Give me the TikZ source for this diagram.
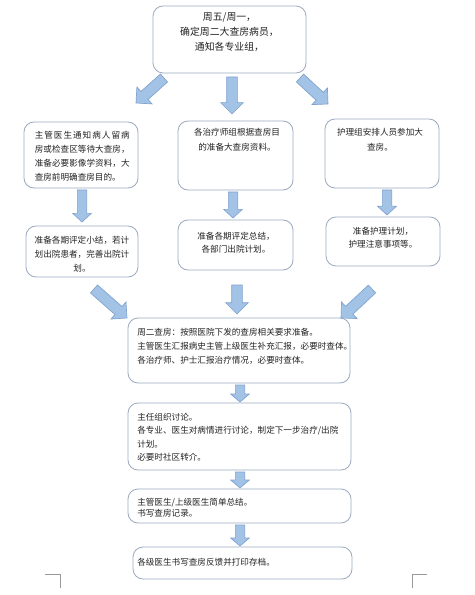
\documentclass[tikz,border=0pt]{standalone}
\usepackage{fontspec}
\setmainfont{Noto Sans CJK SC}
\usetikzlibrary{calc,fit}
\XeTeXlinebreaklocale "zh"
\XeTeXlinebreakskip=0pt plus 1.5pt
\definecolor{boxline}{RGB}{155,170,192}
\definecolor{arrfill}{RGB}{163,195,230}
\definecolor{arrline}{RGB}{128,162,206}
\definecolor{txt}{RGB}{35,35,35}
\newcommand\blockarr[5]{%
  \filldraw[barrow] let \p1=(#1), \p2=(#2),
    \n1={atan2(\y2-\y1,\x2-\x1)}, \n2={veclen(\x2-\x1,\y2-\y1)}, \n3={\n2-#5pt} in
    [shift={(\p1)}, rotate=\n1]
    (0pt,-#3pt) -- (\n3,-#3pt) -- (\n3,-#4pt) -- (\n2,0pt) -- (\n3,#4pt) -- (\n3,#3pt) -- (0pt,#3pt) -- cycle;}
\tikzset{
  box/.style={draw=boxline, line width=0.6pt, rounded corners=7.5pt, fill=white, inner sep=0pt},
  txtc/.style={inner sep=0pt, align=center, text=txt, anchor=north, font=\fontsize{6.45pt}{10.5pt}\selectfont},
  txtl/.style={inner sep=0pt, align=left, text=txt, anchor=north west, font=\fontsize{6.45pt}{10.5pt}\selectfont},
  barrow/.style={fill=arrfill, draw=arrline, line width=0.5pt, line join=miter},
  cmark/.style={draw=black!40, line width=0.4pt}
}
\begin{document}
\begin{tikzpicture}[x=0.75pt, y=-0.75pt]
\useasboundingbox (0,0) rectangle (474,595);
\fill[white] (0,0) rectangle (474,595);

% boxes
\node[box, fit={(153,6) (306,73)}] (top) {};
\node[box, fit={(24,122) (138,188)}] (L1) {};
\node[box, fit={(178,121) (293,190)}] (M1) {};
\node[box, fit={(325,119) (439,188)}] (R1) {};
\node[box, fit={(26,226) (138,277)}] (L2) {};
\node[box, fit={(178,220) (293,270)}] (M2) {};
\node[box, fit={(326,217) (440,266)}] (R2) {};
\node[box, fit={(128,318) (350,383)}] (B3) {};
\node[box, fit={(128,403) (351,470)}] (B4) {};
\node[box, fit={(128,489) (351,523)}] (B5) {};
\node[box, fit={(133,547) (352,579)}] (B6) {};

% texts
\node[txtc, font=\fontsize{7.4pt}{11.2pt}\selectfont] (ttop) at (229.5,12.5)
  {周五/周一，\\确定周二大查房病员，\\通知各专业组，};
\node[txtl, align=justify, text width=71.2pt] (tL1) at (34.5,131)
  {主管医生通知病人留病\linebreak 房或检查区等待大查房，\linebreak 准备必要影像学资料，大\linebreak 查房前明确查房目的。};
\node[txtc, font=\fontsize{6.45pt}{11.2pt}\selectfont] (tM1) at (237,128)
  {各治疗师组根据查房目\\的准备大查房资料。};
\node[txtc, font=\fontsize{6.45pt}{11.2pt}\selectfont] (tR1) at (380,128)
  {护理组安排人员参加大\\查房。};
\node[txtc] (tL2) at (82,236)
  {准备各期评定小结，若计\\划出院患者，完善出院计\\划。};
\node[txtc, font=\fontsize{6.45pt}{9.8pt}\selectfont] (tM2) at (236,232)
  {准备各期评定总结，\\各部门出院计划。};
\node[txtc, font=\fontsize{6.45pt}{9.8pt}\selectfont] (tR2) at (383,227)
  {准备护理计划，\\护理注意事项等。};
\node[txtl] (tB3) at (137,328)
  {周二查房：按照医院下发的查房相关要求准备。\\主管医生汇报病史主管上级医生补充汇报，必要时查体。\\各治疗师、护士汇报治疗情况，必要时查体。};
\node[txtl, font=\fontsize{6.45pt}{10pt}\selectfont] (tB4) at (137,413)
  {主任组织讨论。\\各专业、医生对病情进行讨论，制定下一步治疗/出院\\计划。\\必要时社区转介。};
\node[txtl, font=\fontsize{6.45pt}{8.6pt}\selectfont] (tB5) at (137,498)
  {主管医生/上级医生简单总结。\\书写查房记录。};
\node[txtl] (tB6) at (137,558)
  {各级医生书写查房反馈并打印存档。};

% arrow end points
\coordinate (a1s) at (164,78);  \coordinate (a1e) at (136,103);
\coordinate (a2s) at (232,77);  \coordinate (a2e) at (232,114);
\coordinate (a3s) at (300,78);  \coordinate (a3e) at (328,104);
\coordinate (a4s) at (82,190);  \coordinate (a4e) at (82,222);
\coordinate (a5s) at (233,192); \coordinate (a5e) at (233,218);
\coordinate (a6s) at (387,190); \coordinate (a6e) at (387,215);
\coordinate (a7s) at (94,289);  \coordinate (a7e) at (127,318);
\coordinate (a8s) at (237,285); \coordinate (a8e) at (237,314);
\coordinate (a9s) at (372,289); \coordinate (a9e) at (341,318);
\coordinate (a10s) at (240,385); \coordinate (a10e) at (240,402);
\coordinate (a11s) at (240,472); \coordinate (a11e) at (240,488);
\coordinate (a12s) at (240,525); \coordinate (a12e) at (240,546);

\blockarr{a1s}{a1e}{4}{8.5}{8.5}
\blockarr{a2s}{a2e}{4}{8.5}{8.5}
\blockarr{a3s}{a3e}{4}{8.5}{8.5}
\blockarr{a4s}{a4e}{3.5}{7}{6.5}
\blockarr{a5s}{a5e}{3.5}{7}{6.5}
\blockarr{a6s}{a6e}{3.5}{7}{6.5}
\blockarr{a7s}{a7e}{4}{8.5}{8.5}
\blockarr{a8s}{a8e}{4}{8.5}{8.5}
\blockarr{a9s}{a9e}{4}{8.5}{8.5}
\blockarr{a10s}{a10e}{3.5}{7}{6}
\blockarr{a11s}{a11e}{3.5}{7}{6}
\blockarr{a12s}{a12e}{3.5}{7}{6}

% page corner marks
\draw[cmark] (45,574) -- (60,574) -- (60,588);
\draw[cmark] (427,574) -- (412,574) -- (412,588);
\end{tikzpicture}
\end{document}
